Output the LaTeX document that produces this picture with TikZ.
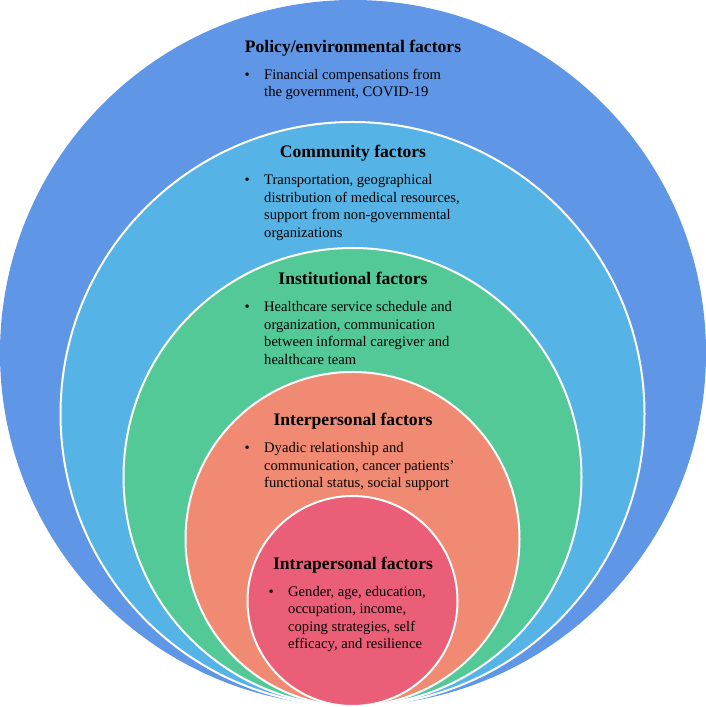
\documentclass[tikz,border=0pt]{standalone}
\usepackage{fontspec}
\setmainfont{Liberation Serif}
\definecolor{cpolicy}{HTML}{5F96E6}
\definecolor{ccomm}{HTML}{55B4E5}
\definecolor{cinst}{HTML}{52C996}
\definecolor{cinter}{HTML}{F08A72}
\definecolor{cintra}{HTML}{EB5E78}
\tikzset{
  ring/.style={draw=white, line width=2pt},
  title/.style={anchor=base, inner sep=0pt, font=\fontsize{17.6}{21}\selectfont\bfseries},
  items/.style={anchor=base west, inner sep=0pt, font=\fontsize{14.6}{17.5}\selectfont},
}
\newcommand{\bul}{\makebox[19.5pt][l]{•}}
\begin{document}
\begin{tikzpicture}[x=1pt,y=1pt]
\useasboundingbox (0,0) rectangle (706,707);
\fill[cpolicy] (353,354) circle[radius=353];
\draw[ring, fill=ccomm] (352.5,293) circle[radius=292];
\draw[ring, fill=cinst] (352.5,230) circle[radius=229];
\draw[ring, fill=cinter] (352.5,168) circle[radius=167];
\draw[ring, fill=cintra] (352.5,106) circle[radius=105];

\node[title] (t1) at (353,707-52.3) {Policy/environmental factors};
\node[items] (b1) at (244.5,707-79.5) {\begin{tabular}[t]{@{}l@{}l@{}}\bul & Financial compensations from\\ & the government, COVID-19\end{tabular}};

\node[title] (t2) at (353,707-157.8) {Community factors};
\node[items] (b2) at (244.5,707-185) {\begin{tabular}[t]{@{}l@{}l@{}}\bul & Transportation, geographical\\ & distribution of medical resources,\\ & support from non-governmental\\ & organizations\end{tabular}};

\node[title] (t3) at (353,707-284.2) {Institutional factors};
\node[items] (b3) at (244.5,707-311.6) {\begin{tabular}[t]{@{}l@{}l@{}}\bul & Healthcare service schedule and\\ & organization, communication\\ & between informal caregiver and\\ & healthcare team\end{tabular}};

\node[title] (t4) at (353,707-425.2) {Interpersonal factors};
\node[items] (b4) at (244.5,707-453) {\begin{tabular}[t]{@{}l@{}l@{}}\bul & Dyadic relationship and\\ & communication, cancer patients’\\ & functional status, social support\end{tabular}};

\node[title] (t5) at (353,707-569.3) {Intrapersonal factors};
\node[items] (b5) at (268.5,707-596.5) {\begin{tabular}[t]{@{}l@{}l@{}}\bul & Gender, age, education,\\ & occupation, income,\\ & coping strategies, self\\ & efficacy, and resilience\end{tabular}};
\end{tikzpicture}
\end{document}
